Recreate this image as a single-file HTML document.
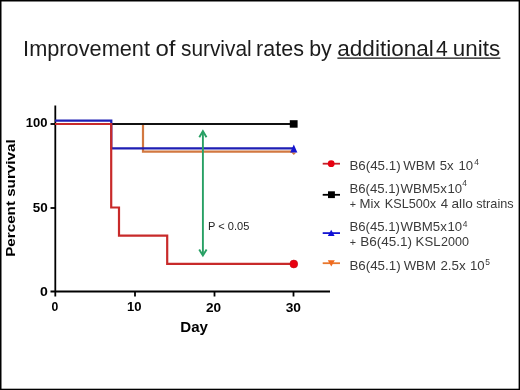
<!DOCTYPE html>
<html><head><meta charset="utf-8">
<style>
html,body{margin:0;padding:0;background:#fff;}
body{width:520px;height:390px;overflow:hidden;position:relative;}
svg{position:absolute;left:0;top:0;display:block;will-change:transform;}
text{font-family:"Liberation Sans",sans-serif;}
</style></head>
<body>
<svg width="520" height="390" viewBox="0 0 520 390">
  <rect x="0" y="0" width="520" height="390" fill="#fff"/>
  <rect x="0" y="0" width="520" height="1.5" fill="#000"/>
  <rect x="0" y="0" width="1.5" height="390" fill="#000"/>
  <rect x="518.6" y="0" width="1.4" height="390" fill="#000"/>
  <rect x="0" y="388.7" width="520" height="1.3" fill="#000"/>
  <text x="23.14" y="55.9" font-size="21.2" fill="#1c1c1c" textLength="126.88" lengthAdjust="spacingAndGlyphs">Improvement</text>
  <text x="155.44" y="55.9" font-size="21.2" fill="#1c1c1c" textLength="20.04" lengthAdjust="spacingAndGlyphs">of</text>
  <text x="180.97" y="55.9" font-size="21.2" fill="#1c1c1c" textLength="70.68" lengthAdjust="spacingAndGlyphs">survival</text>
  <text x="256.1" y="55.9" font-size="21.2" fill="#1c1c1c" textLength="47.81" lengthAdjust="spacingAndGlyphs">rates</text>
  <text x="309.21" y="55.9" font-size="21.2" fill="#1c1c1c" textLength="22.62" lengthAdjust="spacingAndGlyphs">by</text>
  <text x="337.3" y="55.9" font-size="21.2" fill="#1c1c1c" textLength="96.5" lengthAdjust="spacingAndGlyphs">additional</text>
  <text x="435.88" y="55.9" font-size="21.2" fill="#1c1c1c" textLength="11.78" lengthAdjust="spacingAndGlyphs">4</text>
  <text x="452.84" y="55.9" font-size="21.2" fill="#1c1c1c" textLength="47.29" lengthAdjust="spacingAndGlyphs">units</text>
  <line x1="337.4" y1="58.1" x2="500.4" y2="58.1" stroke="#111" stroke-width="1.3"/>
  <g stroke="#000" stroke-width="1.8" fill="none">
    <line x1="55.3" y1="105.5" x2="55.3" y2="296.5"/>
    <line x1="50.5" y1="291.5" x2="330" y2="291.5"/>
    <line x1="50.5" y1="124" x2="55" y2="124"/>
    <line x1="50.5" y1="208" x2="55" y2="208"/>
    <line x1="135" y1="291.5" x2="135" y2="296.5"/>
    <line x1="214.5" y1="291.5" x2="214.5" y2="296.5"/>
    <line x1="293.5" y1="291.5" x2="293.5" y2="296.5"/>
  </g>
  <text x="25.72" y="127.3" font-size="13.5" font-weight="bold" fill="#000" textLength="21.75" lengthAdjust="spacingAndGlyphs">100</text>
  <text x="32.7" y="211.5" font-size="13.5" font-weight="bold" fill="#000" textLength="14.97" lengthAdjust="spacingAndGlyphs">50</text>
  <text x="40.04" y="295.8" font-size="13.5" font-weight="bold" fill="#000" textLength="7.84" lengthAdjust="spacingAndGlyphs">0</text>
  <text x="51.41" y="311.4" font-size="13.5" font-weight="bold" fill="#000" textLength="6.79" lengthAdjust="spacingAndGlyphs">0</text>
  <text x="126.92" y="311.3" font-size="13.5" font-weight="bold" fill="#000" textLength="14.54" lengthAdjust="spacingAndGlyphs">10</text>
  <text x="206.02" y="311.5" font-size="13.5" font-weight="bold" fill="#000" textLength="15.15" lengthAdjust="spacingAndGlyphs">20</text>
  <text x="285.66" y="311.6" font-size="13.5" font-weight="bold" fill="#000" textLength="15.33" lengthAdjust="spacingAndGlyphs">30</text>
  <text x="180.32" y="331.7" font-size="13.8" font-weight="bold" fill="#000" textLength="27.65" lengthAdjust="spacingAndGlyphs">Day</text>
  <text transform="translate(15.4,255.8) rotate(-90)" x="-0.99" y="0" font-size="13.6" font-weight="bold" fill="#000" textLength="117.4" lengthAdjust="spacingAndGlyphs">Percent survival</text>
  <g fill="none" stroke-width="2.2">
    <polyline stroke="#d27840" points="55,124 143,124 143,151.7 293.5,151.7"/>
    <polyline stroke="#111" points="55,124 293.5,124"/>
    <polyline stroke="#1e1eb4" points="55,120.7 111.3,120.7 111.3,148.3 293.5,148.3"/>
    <polyline stroke="#c82a2a" points="55,124 111.2,124 111.2,207.5 119,207.5 119,235.7 167.2,235.7 167.2,263.8 293.5,263.8"/>
  </g>
  <rect x="289.8" y="120.2" width="7.8" height="7.5" fill="#000"/>
  <polygon points="291.3,152.4 296.3,152.4 293.8,154.9" fill="#d07a40"/>
  <polygon points="293.8,144.5 290.2,152.4 297.4,152.4" fill="#1515d0"/>
  <circle cx="293.8" cy="264" r="3.9" fill="#e80010" stroke="#c8101a" stroke-width="0.7"/>
  <g stroke="#28a064" stroke-width="1.9" fill="none">
    <line x1="202.9" y1="132" x2="202.9" y2="254.5"/>
    <polyline points="199.3,137.2 202.9,131.2 206.5,137.2"/>
    <polyline points="199.2,249.5 202.9,255.5 206.6,249.5"/>
  </g>
  <text x="208.12" y="229.8" font-size="10.8" fill="#222" textLength="41.22" lengthAdjust="spacingAndGlyphs">P &lt; 0.05</text>
  <g stroke-width="1.8">
    <line x1="322.7" y1="163.7" x2="340" y2="163.7" stroke="#c42028"/>
    <line x1="322.7" y1="194.8" x2="340" y2="194.8" stroke="#000"/>
    <line x1="322.7" y1="233.1" x2="340" y2="233.1" stroke="#1515d0"/>
    <line x1="322.7" y1="263.2" x2="340" y2="263.2" stroke="#e8782e"/>
  </g>
  <circle cx="331.2" cy="163.7" r="3.4" fill="#e80010"/>
  <rect x="328" y="191.3" width="6.9" height="6.8" fill="#000"/>
  <polygon points="331.2,229.8 327.8,236.1 334.6,236.1" fill="#1010d8"/>
  <polygon points="331.3,266.6 327.8,260.2 334.8,260.2" fill="#f06a1e"/>
  <text x="349.43" y="169.9" font-size="12.9" fill="#3a3a3a" textLength="51.18" lengthAdjust="spacingAndGlyphs">B6(45.1)</text>
  <text x="403.39" y="169.9" font-size="12.9" fill="#3a3a3a" textLength="32.16" lengthAdjust="spacingAndGlyphs">WBM</text>
  <text x="439.71" y="169.9" font-size="12.9" fill="#3a3a3a" textLength="13.9" lengthAdjust="spacingAndGlyphs">5x</text>
  <text x="458.53" y="169.9" font-size="12.9" fill="#3a3a3a" textLength="14.64" lengthAdjust="spacingAndGlyphs">10</text>
  <text x="474.24" y="165.1" font-size="8.3" fill="#3a3a3a" textLength="4.71" lengthAdjust="spacingAndGlyphs">4</text>
  <text x="349.45" y="193.4" font-size="12.9" fill="#3a3a3a" textLength="50.45" lengthAdjust="spacingAndGlyphs">B6(45.1)</text>
  <text x="400.53" y="193.4" font-size="12.9" fill="#3a3a3a" textLength="46.3" lengthAdjust="spacingAndGlyphs">WBM5x</text>
  <text x="447.43" y="193.4" font-size="12.9" fill="#3a3a3a" textLength="14.64" lengthAdjust="spacingAndGlyphs">10</text>
  <text x="462.24" y="185.6" font-size="8.3" fill="#3a3a3a" textLength="4.71" lengthAdjust="spacingAndGlyphs">4</text>
  <text x="349.79" y="207.8" font-size="10.578" fill="#3a3a3a" textLength="6.3" lengthAdjust="spacingAndGlyphs">+</text>
  <text x="359.61" y="207.8" font-size="12.9" fill="#3a3a3a" textLength="20.46" lengthAdjust="spacingAndGlyphs">Mix</text>
  <text x="384.79" y="207.8" font-size="12.9" fill="#3a3a3a" textLength="51.42" lengthAdjust="spacingAndGlyphs">KSL500x</text>
  <text x="440.86" y="207.8" font-size="12.9" fill="#3a3a3a" textLength="7.32" lengthAdjust="spacingAndGlyphs">4</text>
  <text x="451.55" y="207.8" font-size="12.9" fill="#3a3a3a" textLength="21.21" lengthAdjust="spacingAndGlyphs">allo</text>
  <text x="476.22" y="207.8" font-size="12.9" fill="#3a3a3a" textLength="37.43" lengthAdjust="spacingAndGlyphs">strains</text>
  <text x="349.45" y="231.4" font-size="12.9" fill="#3a3a3a" textLength="50.45" lengthAdjust="spacingAndGlyphs">B6(45.1)</text>
  <text x="400.53" y="231.4" font-size="12.9" fill="#3a3a3a" textLength="46.3" lengthAdjust="spacingAndGlyphs">WBM5x</text>
  <text x="447.53" y="231.4" font-size="12.9" fill="#3a3a3a" textLength="14.64" lengthAdjust="spacingAndGlyphs">10</text>
  <text x="462.69" y="226.6" font-size="8.3" fill="#3a3a3a" textLength="4.71" lengthAdjust="spacingAndGlyphs">4</text>
  <text x="349.79" y="246.4" font-size="10.578" fill="#3a3a3a" textLength="6.3" lengthAdjust="spacingAndGlyphs">+</text>
  <text x="360.22" y="246.4" font-size="12.9" fill="#3a3a3a" textLength="51.8" lengthAdjust="spacingAndGlyphs">B6(45.1)</text>
  <text x="415.64" y="246.4" font-size="12.9" fill="#3a3a3a" textLength="24.87" lengthAdjust="spacingAndGlyphs">KSL</text>
  <text x="441.07" y="246.4" font-size="12.9" fill="#3a3a3a" textLength="27.96" lengthAdjust="spacingAndGlyphs">2000</text>
  <text x="349.43" y="269.6" font-size="12.9" fill="#3a3a3a" textLength="51.18" lengthAdjust="spacingAndGlyphs">B6(45.1)</text>
  <text x="403.69" y="269.6" font-size="12.9" fill="#3a3a3a" textLength="32.16" lengthAdjust="spacingAndGlyphs">WBM</text>
  <text x="440.43" y="269.6" font-size="12.9" fill="#3a3a3a" textLength="25.31" lengthAdjust="spacingAndGlyphs">2.5x</text>
  <text x="469.98" y="269.6" font-size="12.9" fill="#3a3a3a" textLength="14.64" lengthAdjust="spacingAndGlyphs">10</text>
  <text x="485.15" y="264.6" font-size="8.3" fill="#3a3a3a" textLength="4.71" lengthAdjust="spacingAndGlyphs">5</text>
</svg>
</body></html>
